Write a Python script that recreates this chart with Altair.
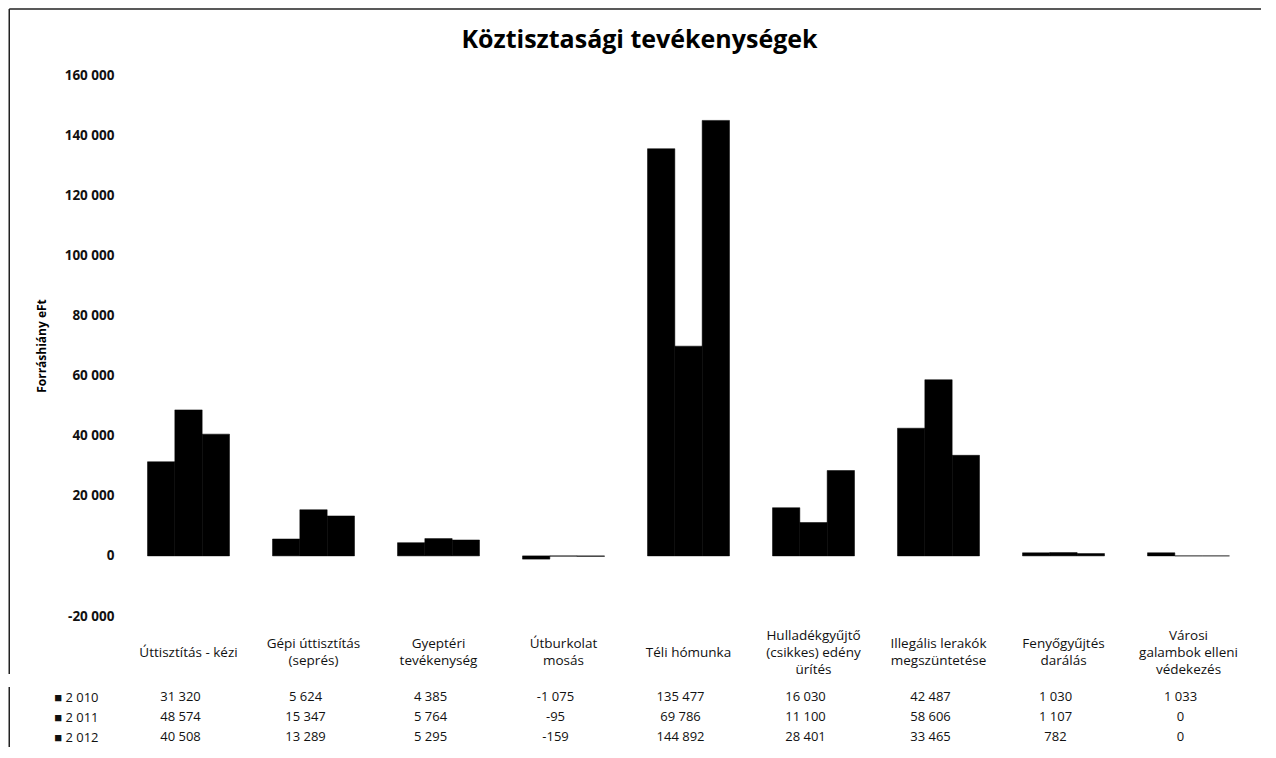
import altair as alt
import pandas as pd

FONT = "Open Sans"

categories = [
    "Úttisztítás - kézi",
    "Gépi úttisztítás\n(seprés)",
    "Gyeptéri\ntevékenység",
    "Útburkolat\nmosás",
    "Téli hómunka",
    "Hulladékgyűjtő\n(csikkes) edény\nürítés",
    "Illegális lerakók\nmegszüntetése",
    "Fenyőgyűjtés\ndarálás",
    "Városi\ngalambok elleni\nvédekezés",
]
years = [2010, 2011, 2012]
values_2010 = [31320, 5624, 4385, -1075, 135477, 16030, 42487, 1030, 1033]
values_2011 = [48574, 15347, 5764, -95, 69786, 11100, 58606, 1107, 0]
values_2012 = [40508, 13289, 5295, -159, 144892, 28401, 33465, 782, 0]
y_ticks = [-20000, 0, 20000, 40000, 60000, 80000, 100000, 120000, 140000, 160000]

rows = []
for cat, a, b, c in zip(categories, values_2010, values_2011, values_2012):
    for yr, v in zip(years, (a, b, c)):
        rows.append({"category": cat, "year": yr, "value": v})
df = pd.DataFrame(rows)
one = pd.DataFrame({"k": [0]})

W, H, TH = 1125, 541, 60
FX = -116.75
LH = 17

x_scale = alt.Scale(domain=categories, paddingInner=0.344, paddingOuter=0.172)

# multi-line labels, vertically centred by a per-label padding
label_padding_conditional = {
    "condition": [
        {"test": "length(split(datum.value, '\\n')) == 1", "value": 19 + LH},
        {"test": "length(split(datum.value, '\\n')) == 2", "value": 19 + LH / 2},
    ],
    "value": 19,
}


def build(label_padding):
    bars = alt.Chart(df).mark_bar(color="#000000", stroke="#000000", strokeWidth=0.5).encode(
        x=alt.X(
            "category:N",
            scale=x_scale,
            sort=categories,
            axis=alt.Axis(
                title=None, orient="bottom", domain=False, ticks=False, labelAngle=0,
                labelExpr="split(datum.label, '\\n')", labelBaseline="middle",
                labelPadding=label_padding, labelLineHeight=LH, labelFontSize=13.5,
                labelFont=FONT, labelColor="#111111",
            ),
        ),
        xOffset=alt.XOffset("year:O", scale=alt.Scale(paddingInner=0, paddingOuter=0), sort=years),
        y=alt.Y(
            "value:Q",
            scale=alt.Scale(domain=[-20000, 160000], nice=False, zero=False),
            axis=alt.Axis(
                title="Forráshiány eFt", titleFontSize=12, titleFont=FONT, titleFontWeight="bold",
                titleColor="#000000", titlePadding=16,
                values=y_ticks, format=",d", domain=False, ticks=False, grid=False,
                labelPadding=12, labelFontSize=13.5, labelFont=FONT, labelFontWeight="bold",
                labelColor="#111111",
            ),
        ),
    )

    frame_top = alt.Chart(one).mark_rule(color="#222222", strokeWidth=1.5).encode(
        x=alt.value(FX), x2=alt.value(W + 10), y=alt.value(-66)
    )
    frame_left = alt.Chart(one).mark_rule(color="#222222", strokeWidth=1.5).encode(
        x=alt.value(FX), y=alt.value(-66), y2=alt.value(H + 58)
    )

    top = alt.layer(bars, frame_top, frame_left).properties(
        width=W,
        height=H,
        title=alt.Title(
            "Köztisztasági tevékenységek", fontSize=25, font=FONT, fontWeight="bold",
            color="#000000", anchor="middle", frame="group", dx=-49, offset=-45,
        ),
    )

    table_text = alt.Chart(df).mark_text(fontSize=13, font=FONT, color="#111111", dx=-8).encode(
        x=alt.X("category:N", scale=x_scale, sort=categories, axis=None),
        y=alt.Y(
            "year:O",
            sort=years,
            scale=alt.Scale(paddingInner=0, paddingOuter=0),
            axis=alt.Axis(
                title=None, domain=False, ticks=False, grid=False,
                labelExpr="'\u25a0 ' + format(datum.value, ',d')", labelPadding=28,
                labelFontSize=13, labelFont=FONT, labelColor="#111111",
            ),
        ),
        text=alt.Text("value:Q", format=",d"),
    )
    table_left = alt.Chart(one).mark_rule(color="#222222", strokeWidth=1.5).encode(
        x=alt.value(FX), y=alt.value(0), y2=alt.value(TH)
    )
    table = alt.layer(table_text, table_left).properties(width=W, height=TH)

    return (
        alt.vconcat(top, table, spacing=10)
        .properties(padding=0)
        .configure(
            font=FONT,
            locale={
                "number": {
                    "decimal": ",",
                    "thousands": "\u00a0",
                    "grouping": [3],
                    "currency": ["", " Ft"],
                    "minus": "-",
                }
            },
        )
        .configure_view(stroke=None)
    )


try:
    chart = build(label_padding_conditional)
    chart.to_dict()
except Exception:
    chart = build(19)

chart.save("out.html", embed_options={"renderer": "svg", "actions": False})
